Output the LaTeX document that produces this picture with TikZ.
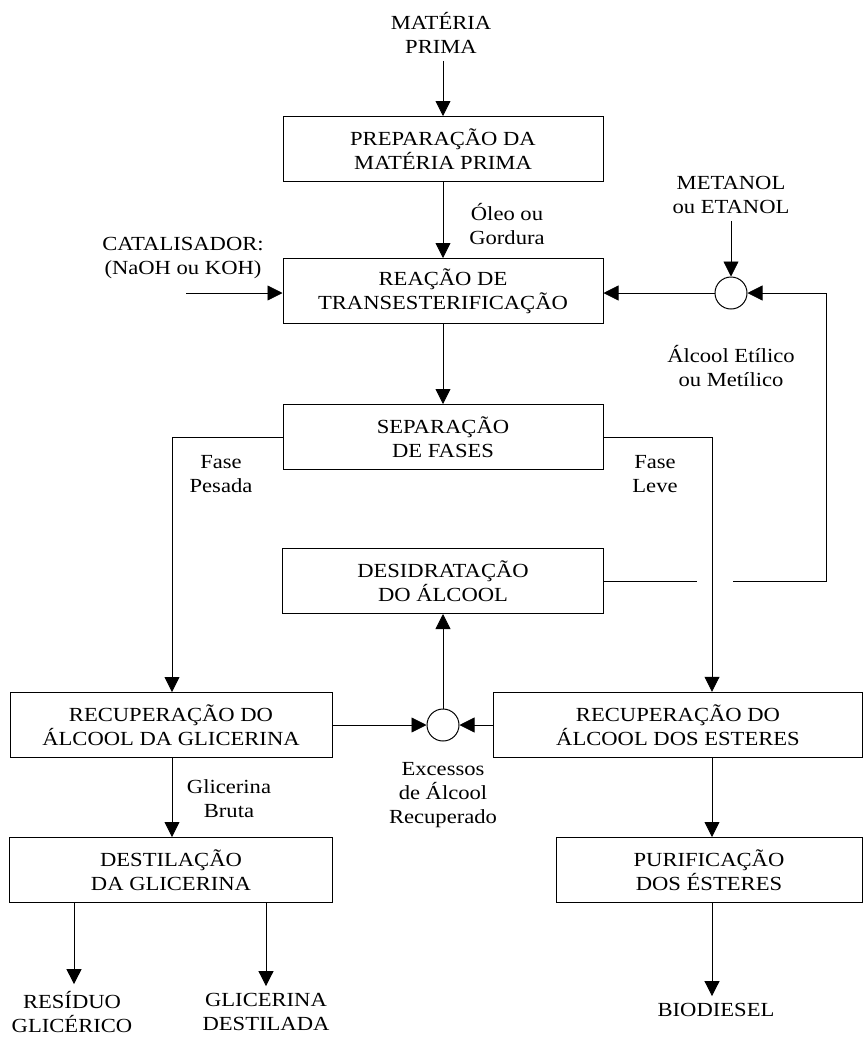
\documentclass[tikz,border=0pt]{standalone}
\usepackage{fontspec}
\setmainfont{Liberation Serif}[FakeStretch=1.13]
\usetikzlibrary{arrows.meta, positioning}
\tikzset{
  every node/.style={font=\fontsize{20}{24}\selectfont}, % Times-like text everywhere
  process/.style={ % Sets the properties for each process box
    draw, line width=1pt,
    minimum height=65pt,
    align=center},
  mixer/.style={ % Small circle where the streams join
    draw, circle, line width=1pt,
    minimum size=32pt, inner sep=0pt},
  stream/.style={ % Free text at the ends of the flow
    align=center, inner sep=7pt},
  note/.style={ % Labels beside the arrows
    align=center, inner sep=0pt},
  flow/.style={ % Sets the properties for each arrow
    draw, line width=0.8pt,
    -{Triangle[length=15pt,width=15pt]}}}

\begin{document}
\begin{tikzpicture}[x=1pt,y=-1pt]
  \useasboundingbox (0,0) rectangle (863,1037);
  % boxes
  \node[process, minimum width=320pt] (prep) at (443,149) {PREPARAÇÃO DA\\MATÉRIA PRIMA};
  \node[process, minimum width=320pt] (reac) at (443,291) {REAÇÃO DE\\TRANSESTERIFICAÇÃO};
  \node[process, minimum width=320pt] (sep) at (443,437) {SEPARAÇÃO\\DE FASES};
  \node[process, minimum width=321pt] (desid) at (443,581) {DESIDRATAÇÃO\\DO ÁLCOOL};
  \node[process, minimum width=322pt] (recgli) at (171,725) {RECUPERAÇÃO DO\\ÁLCOOL DA GLICERINA};
  \node[process, minimum width=369pt, line width=1.4pt] (recest) at (678,725) {RECUPERAÇÃO DO\\ÁLCOOL DOS ESTERES};
  \node[process, minimum width=323pt] (destil) at (171,870) {DESTILAÇÃO\\DA GLICERINA};
  \node[process, minimum width=306pt] (purif) at (709,870) {PURIFICAÇÃO\\DOS ÉSTERES};
  % mixers
  \node[mixer] (mixtop) at (731,293) {};
  \node[mixer] (mixbot) at (443,725) {};
  % inputs and outputs
  \node[stream] (mp) at (441,33) {MATÉRIA\\PRIMA};
  \node[stream] (cat) at (183,258) {CATALISADOR:\\(NaOH ou KOH)};
  \node[stream] (met) at (731,195) {METANOL\\ou ETANOL};
  \node[stream] (res) at (72,1012) {RESÍDUO\\GLICÉRICO};
  \node[stream] (glid) at (266,1012) {GLICERINA\\DESTILADA};
  \node[stream] (bio) at (716,1010) {BIODIESEL};
  % labels
  \node[note] at (507,224) {Óleo ou\\Gordura};
  \node[note] at (731,366) {Álcool Etílico\\ou Metílico};
  \node[note] at (221,474) {Fase\\Pesada};
  \node[note] at (655,474) {Fase\\Leve};
  \node[note] at (443,795) {Excessos\\de Álcool\\Recuperado};
  \node[note] at (229,799) {Glicerina\\Bruta};
  % corners
  \coordinate (catx) at (186,0);
  \coordinate (pes) at (172,437);
  \coordinate (lev) at (712,437);
  \coordinate (ret) at (826,581);
  \coordinate (gapa) at (697,581);
  \coordinate (gapb) at (733,581);
  \coordinate (resx) at (74,0);
  \coordinate (glix) at (266,0);
  % main line
  \draw[flow] (mp.south -| prep.north) -- (prep.north);
  \draw[flow] (prep) -- (reac);
  \draw[flow] (reac) -- (sep);
  \draw[flow] (catx |- mixtop) -- (reac.west |- mixtop);
  \draw[flow] (met) -- (mixtop);
  \draw[flow] (mixtop.west) -- (reac.east |- mixtop);
  % phases
  \draw[flow] (sep.west) -- (pes) -- (pes |- recgli.north);
  \draw[flow] (sep.east) -- (lev) -- (lev |- recest.north);
  % alcohol recovery
  \draw[flow] (recgli.east) -- (mixbot);
  \draw[flow] (recest.west) -- (mixbot);
  \draw[flow] (mixbot) -- (desid);
  \draw (desid.east) -- (gapa);
  \draw[flow] (gapb) -- (ret) -- (ret |- mixtop) -- (mixtop);
  % products
  \draw[flow] (recgli.south -| pes) -- (destil.north -| pes);
  \draw[flow] (recest.south -| lev) -- (purif.north -| lev);
  \draw[flow] (destil.south -| resx) -- (res.north -| resx);
  \draw[flow] (destil.south -| glix) -- (glid.north -| glix);
  \draw[flow] (purif.south -| lev) -- (bio.north -| lev);
\end{tikzpicture}
\end{document}
